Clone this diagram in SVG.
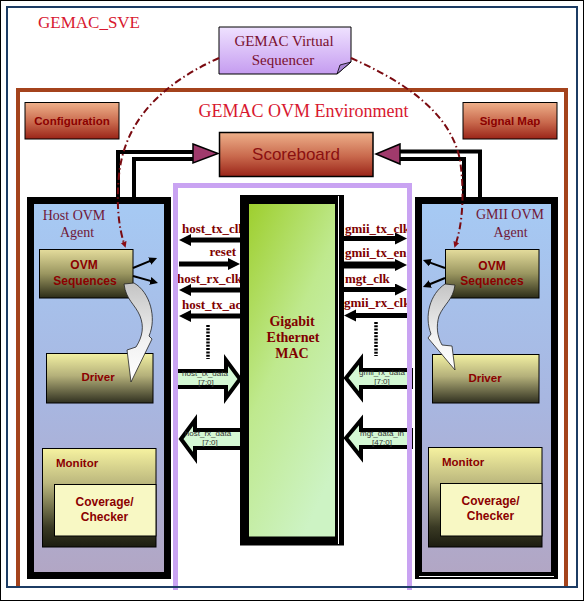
<svg xmlns="http://www.w3.org/2000/svg" width="585" height="602" viewBox="0 0 585 602">
<defs>
  <linearGradient id="seqG" x1="0" y1="0" x2="0" y2="1">
    <stop offset="0" stop-color="#efe2ff"/><stop offset="1" stop-color="#c59cf0"/>
  </linearGradient>
  <linearGradient id="redG" x1="0" y1="0" x2="0" y2="1">
    <stop offset="0" stop-color="#eeb08a"/><stop offset="0.55" stop-color="#c8684c"/><stop offset="1" stop-color="#9a2418"/>
  </linearGradient>
  <linearGradient id="agentG" x1="0" y1="0" x2="0" y2="1">
    <stop offset="0" stop-color="#a6caf4"/><stop offset="0.55" stop-color="#a8b6e0"/><stop offset="1" stop-color="#b2a6c4"/>
  </linearGradient>
  <linearGradient id="oliveG" x1="0" y1="0" x2="0" y2="1">
    <stop offset="0" stop-color="#e4dc9c"/><stop offset="0.5" stop-color="#9a9660"/><stop offset="1" stop-color="#2c2c18"/>
  </linearGradient>
  <linearGradient id="drvG" x1="0" y1="0" x2="0" y2="1">
    <stop offset="0" stop-color="#f2f0a2"/><stop offset="0.45" stop-color="#b4b07a"/><stop offset="1" stop-color="#303020"/>
  </linearGradient>
  <linearGradient id="monG" x1="0" y1="0" x2="0" y2="1">
    <stop offset="0" stop-color="#f6f2a0"/><stop offset="0.35" stop-color="#bcb87e"/><stop offset="0.8" stop-color="#3a3a24"/><stop offset="1" stop-color="#1c1c10"/>
  </linearGradient>
  <linearGradient id="macG" x1="0" y1="0" x2="0.6" y2="1">
    <stop offset="0" stop-color="#9ccd28"/><stop offset="0.5" stop-color="#bfe98e"/><stop offset="1" stop-color="#cdf3c4"/>
  </linearGradient>
  <linearGradient id="curveG" x1="0" y1="0" x2="0" y2="1">
    <stop offset="0" stop-color="#c4c4c4"/><stop offset="0.6" stop-color="#f2f2f2"/><stop offset="1" stop-color="#ffffff"/>
  </linearGradient>
  <marker id="ah" markerUnits="userSpaceOnUse" markerWidth="14" markerHeight="14" refX="2" refY="6" orient="auto">
    <path d="M0,0 L12,6 L0,12 z" fill="#000"/>
  </marker>
  <marker id="ahs" markerUnits="userSpaceOnUse" markerWidth="10" markerHeight="10" refX="2" refY="4" orient="auto">
    <path d="M0,0 L8,4 L0,8 z" fill="#000"/>
  </marker>
  <marker id="ahr" markerUnits="userSpaceOnUse" markerWidth="8" markerHeight="8" refX="1" refY="3" orient="auto">
    <path d="M0,0 L6,3 L0,6 z" fill="#8a0c14"/>
  </marker>
</defs>
<style>
  .serif{font-family:"Liberation Serif","Times New Roman",serif}
  .sans{font-family:"Liberation Sans",Arial,sans-serif}
  .sig{font-family:"Liberation Serif","Times New Roman",serif;font-weight:bold;font-size:13px;fill:#800000}
  .box{stroke:#000;stroke-width:1}
  .lbl{font-family:"Liberation Sans",Arial,sans-serif;font-weight:bold;fill:#8b0000;text-anchor:middle}
  .mon{font-family:"Liberation Sans",Arial,sans-serif;font-weight:bold;fill:#8b0000;font-size:11.5px}
  .agt{font-family:"Liberation Serif","Times New Roman",serif;font-size:14px;fill:#701838;text-anchor:middle}
  .wire{stroke:#000;stroke-width:5;fill:none}
  .thick{stroke:#000;stroke-width:4;fill:none}
  .blk{fill:#d4f8d4;stroke:#000;stroke-width:4;stroke-linejoin:miter}
  .bt{font-family:"Liberation Sans",Arial,sans-serif;font-size:8px;fill:#333;text-anchor:middle}
  .dd{stroke:#7a0a10;stroke-width:2;fill:none;stroke-dasharray:7 3 1.5 3}
  .dots{stroke:#000;stroke-width:3.5;stroke-dasharray:2 1.3}
  .curve{fill:url(#curveG);stroke:#222;stroke-width:0.8}
  .mac{font-family:"Liberation Serif","Times New Roman",serif;font-size:14px;font-weight:bold;fill:#800000;text-anchor:middle}
</style>

<rect x="0" y="0" width="585" height="602" fill="#fff"/>
<rect x="0.5" y="0.5" width="583" height="600" fill="none" stroke="#000" stroke-width="1"/>

<g id="gemac-sve">
  <text class="serif" x="38" y="28" font-size="17" fill="#d81830">GEMAC_SVE</text>
</g>

<g id="ovm-env">
  <path d="M18,588 V90 H566 V588" fill="none" stroke="#a4431c" stroke-width="4"/>
  <text class="serif" x="303.5" y="117" font-size="18" fill="#d81830" text-anchor="middle">GEMAC OVM Environment</text>
</g>

<g id="sequencer">
  <path d="M219,27 H351 V62 L337,74 H219 Z" fill="url(#seqG)" stroke="#000" stroke-width="1"/>
  <path d="M337,74 L340,65 L351,62 Z" fill="#a884d4" stroke="#000" stroke-width="0.8"/>
  <text class="serif" x="284" y="46" font-size="15" fill="#7a1030" text-anchor="middle">GEMAC Virtual</text>
  <text class="serif" x="283" y="65" font-size="15" fill="#7a1030" text-anchor="middle">Sequencer</text>
</g>

<g id="configuration">
  <rect class="box" x="25" y="102.5" width="94" height="36.5" fill="url(#redG)"/>
  <text class="lbl" x="72" y="124.5" font-size="11.5">Configuration</text>
</g>

<g id="signal-map">
  <rect class="box" x="463" y="102.5" width="94" height="36.5" fill="url(#redG)"/>
  <text class="lbl" x="510" y="124.5" font-size="11.5">Signal Map</text>
</g>

<g id="scoreboard">
  <rect x="219.5" y="132.5" width="153.5" height="44" fill="url(#redG)" stroke="#000" stroke-width="1.5"/>
  <text class="sans" x="296" y="160" font-size="17" fill="#8b1010" text-anchor="middle">Scoreboard</text>
</g>

<g id="host-agent">
  <rect x="30.5" y="200.5" width="137" height="375" fill="url(#agentG)" stroke="#000" stroke-width="7"/>
  <text class="agt" x="74" y="220">Host OVM</text>
  <text class="agt" x="77" y="237">Agent</text>
</g>

<g id="gmii-agent">
  <rect x="418.5" y="200.5" width="136" height="375" fill="url(#agentG)" stroke="#000" stroke-width="7"/>
  <line x1="419" y1="576.5" x2="554" y2="576.5" stroke="#fff" stroke-width="1"/>
  <text class="agt" x="510" y="219">GMII OVM</text>
  <text class="agt" x="510.5" y="237">Agent</text>
</g>

<g id="host-sequences">
  <rect class="box" x="39.5" y="249.5" width="93.5" height="48.5" fill="url(#oliveG)"/>
  <text class="lbl" x="84" y="269" font-size="12">OVM</text>
  <text class="lbl" x="85" y="285" font-size="12">Sequences</text>
</g>
<g id="host-driver">
  <rect class="box" x="46.5" y="353.5" width="106.5" height="49.5" fill="url(#drvG)"/>
  <text class="lbl" x="98" y="381" font-size="11.5">Driver</text>
</g>
<g id="host-monitor">
  <rect class="box" x="42.5" y="448.5" width="113.5" height="98.5" fill="url(#monG)"/>
  <text class="mon" x="56" y="467">Monitor</text>
</g>
<g id="host-coverage">
  <rect class="box" x="54.5" y="484.5" width="101.5" height="51.5" fill="#f8f8c4"/>
  <text class="lbl" x="104.5" y="506" font-size="12">Coverage/</text>
  <text class="lbl" x="104.5" y="521" font-size="12">Checker</text>
</g>

<g id="gmii-sequences">
  <rect class="box" x="445.5" y="249.5" width="93.5" height="48.5" fill="url(#oliveG)"/>
  <text class="lbl" x="492" y="270" font-size="12">OVM</text>
  <text class="lbl" x="492" y="285" font-size="12">Sequences</text>
</g>
<g id="gmii-driver">
  <rect class="box" x="432.5" y="354.5" width="106.5" height="48.5" fill="url(#drvG)"/>
  <text class="lbl" x="485" y="382" font-size="11.5">Driver</text>
</g>
<g id="gmii-monitor">
  <rect class="box" x="428.5" y="447.5" width="113.5" height="99.5" fill="url(#monG)"/>
  <text class="mon" x="442" y="466">Monitor</text>
</g>
<g id="gmii-coverage">
  <rect class="box" x="440.5" y="483.5" width="101.5" height="52.5" fill="#f8f8c4"/>
  <text class="lbl" x="490.5" y="505" font-size="12">Coverage/</text>
  <text class="lbl" x="490.5" y="520" font-size="12">Checker</text>
</g>

<g id="connectors">
  <path class="thick" d="M118,197 V152 H194"/>
  <path class="thick" d="M134,197 V159 H194"/>
  <path class="thick" d="M480,197 V151.5 H399"/>
  <path class="thick" d="M464,197 V159 H399"/>
  <polygon points="193,144 218,153.5 193,163" fill="#a03a6c" stroke="#000" stroke-width="1.5"/>
  <polygon points="400,144 376,154 400,164" fill="#a03a6c" stroke="#000" stroke-width="1.5"/>

  <path class="curve" d="M124,284 L134,283 C150,292 157,318 149,336 L152,339 L131,382 L127,350 L136,347 C143,336 144,326 140,316 C135,304 126,300 124,284 Z"/>
  <path class="curve" d="M455,285 L445,284 C430,294 424,316 431,334 L428,338 L455,370 L452,346 L442,345 C437,336 436,326 439,316 C444,304 453,300 455,285 Z"/>

  <line x1="133" y1="268" x2="151.5" y2="260.3" stroke="#000" stroke-width="2" marker-end="url(#ahs)"/>
  <line x1="133" y1="276" x2="152.2" y2="281.4" stroke="#000" stroke-width="2" marker-end="url(#ahs)"/>
  <line x1="445" y1="268" x2="428.6" y2="262.1" stroke="#000" stroke-width="2" marker-end="url(#ahs)"/>
  <line x1="445" y1="278" x2="428.5" y2="284.7" stroke="#000" stroke-width="2" marker-end="url(#ahs)"/>

  <text class="sig" x="182" y="233">host_tx_clk</text>
  <line class="wire" x1="240" y1="240" x2="189" y2="240" marker-end="url(#ah)"/>
  <text class="sig" x="236" y="256" text-anchor="end">reset</text>
  <line class="wire" x1="179" y1="264" x2="230" y2="264" marker-end="url(#ah)"/>
  <text class="sig" x="177" y="283">host_rx_clk</text>
  <line class="wire" x1="240" y1="290" x2="189" y2="290" marker-end="url(#ah)"/>
  <text class="sig" x="182" y="309">host_tx_ack</text>
  <line class="wire" x1="240" y1="316" x2="189" y2="316" marker-end="url(#ah)"/>
  <line class="dots" x1="208" y1="325" x2="208" y2="359"/>

  <path class="blk" d="M176,371 H226 V360 L240,379 L226,398 V387 H176 Z"/>
  <text class="bt" x="205" y="376">host_tx_data</text>
  <text class="bt" x="206" y="385">[7:0]</text>
  <path class="blk" d="M181,439 L195,420 V430 H242 V448 H195 V458 Z"/>
  <text class="bt" x="208" y="436">host_rx_data</text>
  <text class="bt" x="210" y="445">[7:0]</text>

  <text class="sig" x="345" y="233">gmii_tx_clk</text>
  <line class="wire" x1="343" y1="238.5" x2="397" y2="238.5" marker-end="url(#ah)"/>
  <text class="sig" x="345" y="257">gmii_tx_en</text>
  <line x1="343" y1="265" x2="397" y2="265" stroke="#000" stroke-width="7" marker-end="url(#ah)"/>
  <text class="sig" x="345" y="283">mgt_clk</text>
  <line class="wire" x1="343" y1="289.5" x2="397" y2="289.5" marker-end="url(#ah)"/>
  <text class="sig" x="344" y="307">gmii_rx_clk</text>
  <line class="wire" x1="407" y1="315.5" x2="354" y2="315.5" marker-end="url(#ah)"/>
  <line class="dots" x1="376" y1="322" x2="376" y2="356"/>

  <path class="blk" d="M346,378 L361,359 V370 H411 V387 H361 V397 Z"/>
  <text class="bt" x="382" y="375">gmii_rx_data</text>
  <text class="bt" x="382" y="384">[7:0]</text>
  <path class="blk" d="M346,438 L361,420 V430 H411 V447 H361 V457 Z"/>
  <text class="bt" x="382" y="436">mgt_data_in</text>
  <text class="bt" x="382" y="445">[47:0]</text>
</g>

<g id="gigabit-mac">
  <rect x="244.5" y="199.5" width="95" height="341.5" fill="url(#macG)" stroke="#000" stroke-width="9"/>
  <line x1="338.5" y1="196" x2="338.5" y2="544" stroke="#fff" stroke-width="1"/>
  <text class="mac" x="292" y="326">Gigabit</text>
  <text class="mac" x="293" y="342">Ethernet</text>
  <text class="mac" x="292" y="358">MAC</text>
</g>

<g id="dut-env">
  <path d="M175.5,590 V185.5 H409.5 V590" fill="none" stroke="#c9a3f2" stroke-width="5"/>
</g>

<g id="sve-frame">
  <rect x="7" y="7" width="570" height="580" fill="none" stroke="#1c3c64" stroke-width="2"/>
</g>

<g id="virtual-links">
  <path class="dd" d="M219,58 C170,80 125,115 119,175 C116,205 119,228 124,243" marker-end="url(#ahr)"/>
  <path class="dd" d="M351,58 C400,80 450,110 460,160 C465,195 462,225 456,243" marker-end="url(#ahr)"/>
</g>
</svg>
